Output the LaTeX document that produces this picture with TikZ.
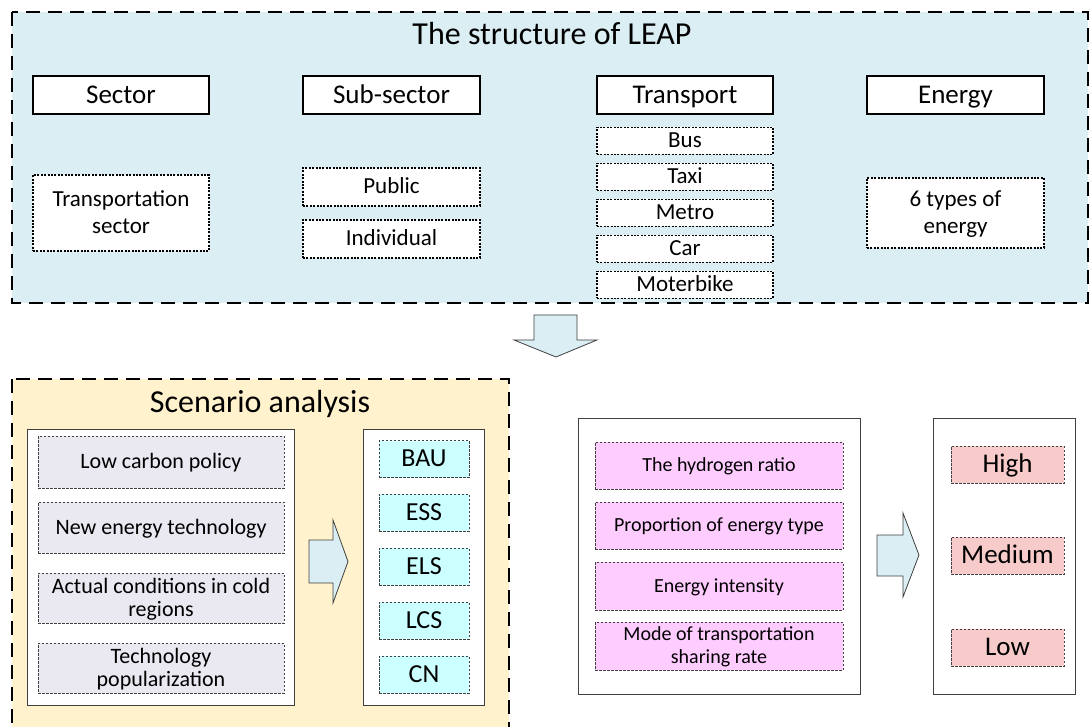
\documentclass[tikz,border=0pt]{standalone}
\usepackage{fontspec}
\setmainfont{Carlito}
\definecolor{topfill}{HTML}{DAEEF3}
\definecolor{scenfill}{HTML}{FFF2CC}
\definecolor{facfill}{HTML}{EAE8F0}
\definecolor{cyanfill}{HTML}{CCFFFF}
\definecolor{pinkfill}{HTML}{FFCCFF}
\definecolor{levfill}{HTML}{F8CBCB}
\definecolor{edgegray}{HTML}{404040}
\tikzset{
  fs/.style 2 args={font=\fontsize{#1}{#2}\selectfont, text height={0.7*#1pt}, text depth={0.1*#1pt}},
  twoline/.style 2 args={text height={0.7*#1pt+#2pt}, text depth={0.1*#1pt}},
  headbox/.style={draw=black, line width=1.3pt, fill=white, minimum width=176pt, minimum height=38pt, inner sep=0pt, fs={27}{32}},
  dotbox/.style={draw=black, line width=1.3pt, dash pattern=on 2pt off 1.4pt, fill=white, inner sep=0pt, fs={23}{27}, align=center},
  thinbox/.style={draw=edgegray, line width=0.8pt, dash pattern=on 2.5pt off 1.5pt, inner sep=0pt, align=center},
  panel/.style={draw=edgegray, line width=1pt, fill=white},
  bigdash/.style={draw=black, line width=1.5pt, dash pattern=on 14pt off 8pt},
  blockarrow/.style={draw=edgegray, line width=0.8pt, fill=topfill},
}
\begin{document}
\begin{tikzpicture}[x=1pt,y=-1pt]
\useasboundingbox (0,0) rectangle (1090,727);
\clip (0,0) rectangle (1090,727);
% ---------- top panel ----------
\draw[bigdash, fill=topfill] (12,12) rectangle (1088,303);
\node[fs={32}{38}, anchor=base] (title) at (552,45) {The structure of LEAP};
\node[headbox] (sector) at (121,95) {Sector};
\node[headbox, minimum width=177pt] (subsector) at (391.5,95) {Sub-sector};
\node[headbox] (transport) at (685,95) {Transport};
\node[headbox, minimum width=177pt] (energy) at (955.5,95) {Energy};
\node[dotbox, twoline={23}{27}, minimum width=176pt, minimum height=76pt] (trsector) at (121,213) {Transportation\\sector};
\node[dotbox, minimum width=177pt, minimum height=38pt] (public) at (391.5,187) {Public};
\node[dotbox, minimum width=177pt, minimum height=38pt] (individual) at (391.5,239) {Individual};
\foreach \n/\t/\y in {bus/Bus/141, taxi/Taxi/177, metro/Metro/213, car/Car/249, moto/Moterbike/285}{
  \node[dotbox, minimum width=176pt, minimum height=27pt] (\n) at (685,\y) {\t};
}
\node[dotbox, twoline={23}{27}, minimum width=177pt, minimum height=70pt] (sixtypes) at (955.5,213) {6 types of\\energy};
% down arrow
\draw[blockarrow] (534,315) -- (577,315) -- (577,340) -- (597,340) -- (556,357) -- (514,340) -- (534,340) -- cycle;
% ---------- scenario panel ----------
\draw[bigdash, fill=scenfill] (12,379) rectangle (509,760);
\node[fs={32}{38}, anchor=base] (scentitle) at (260,412) {Scenario analysis};
\draw[panel] (27,429) rectangle (294,705);
\draw[panel] (363,429) rectangle (484,705);
\node[thinbox, fill=facfill, minimum width=246pt, minimum height=52pt, fs={22}{24}] (lowc) at (161,462) {Low carbon policy};
\node[thinbox, fill=facfill, minimum width=246pt, minimum height=51pt, fs={22}{24}] (newe) at (161,527.5) {New energy technology};
\node[thinbox, fill=facfill, minimum width=246pt, minimum height=50pt, fs={22}{23}, twoline={22}{23}] (actual) at (161,598) {Actual conditions in cold\\regions};
\node[thinbox, fill=facfill, minimum width=246pt, minimum height=50pt, fs={22}{23}, twoline={22}{23}] (techpop) at (161,668) {Technology\\popularization};
\foreach \n/\t/\y in {bau/BAU/459, ess/ESS/512.5, els/ELS/566.5, lcs/LCS/620.5, cn/CN/674.5}{
  \node[thinbox, fill=cyanfill, minimum width=90pt, minimum height=37pt, fs={26}{30}] (\n) at (424,\y) {\t};
}
\draw[blockarrow] (309,540) -- (333,540) -- (333,520) -- (348,561.5) -- (333,603) -- (333,583) -- (309,583) -- cycle;
% ---------- parameters ----------
\draw[panel] (578,418) rectangle (860,694);
\node[thinbox, fill=pinkfill, minimum width=248pt, minimum height=47pt, fs={20}{24}] (hyd) at (719,465.5) {The hydrogen ratio};
\node[thinbox, fill=pinkfill, minimum width=248pt, minimum height=47pt, fs={20}{24}] (prop) at (719,525.5) {Proportion of energy type};
\node[thinbox, fill=pinkfill, minimum width=248pt, minimum height=48pt, fs={20}{24}] (inten) at (719,586) {Energy intensity};
\node[thinbox, fill=pinkfill, minimum width=248pt, minimum height=48pt, fs={20}{23}, twoline={20}{23}] (mode) at (719,646) {Mode of transportation\\sharing rate};
\draw[blockarrow] (877,535) -- (903,535) -- (903,513) -- (919,555) -- (903,597) -- (903,576) -- (877,576) -- cycle;
\draw[panel] (933,418) rectangle (1075,694);
\foreach \n/\t/\y in {high/High/464.5, medium/Medium/555.5, low/Low/647.5}{
  \node[thinbox, fill=levfill, minimum width=113pt, minimum height=37pt, fs={27}{32}] (\n) at (1007.5,\y) {\t};
}
\end{tikzpicture}
\end{document}
